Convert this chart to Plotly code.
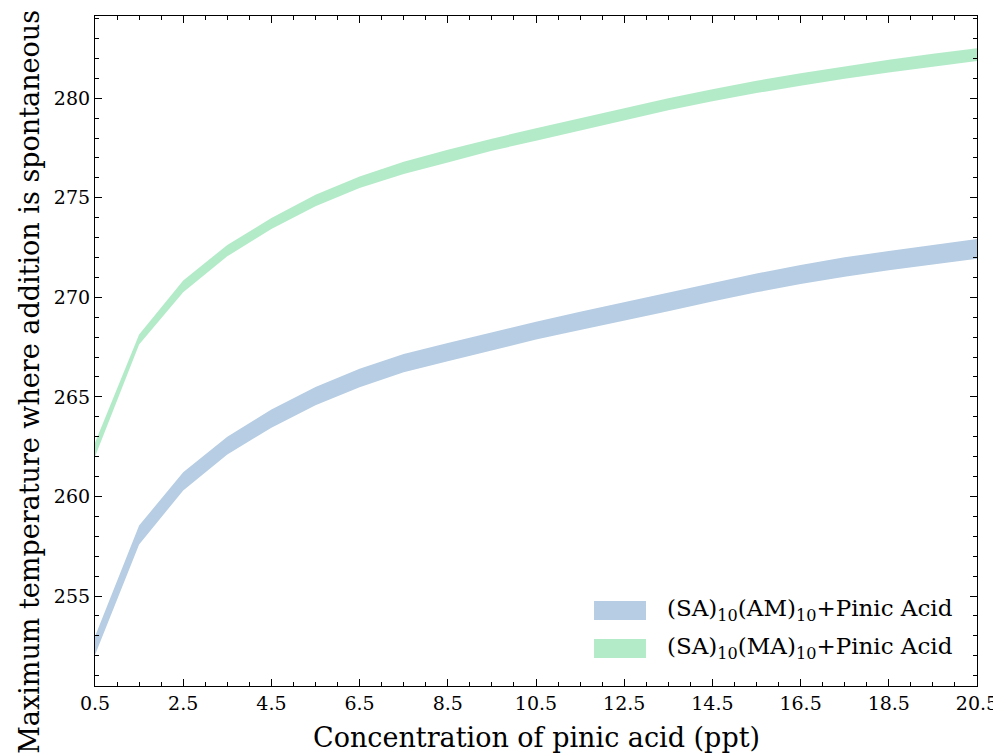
import plotly.graph_objects as go

# Data
conc = [0.5, 1.5, 2.5, 3.5, 4.5, 5.5, 6.5, 7.5, 8.5, 9.5, 10.5,
        11.5, 12.5, 13.5, 14.5, 15.5, 16.5, 17.5, 18.5, 19.5, 20.5]

am_upper = [252.96, 258.54, 261.22, 263.00, 264.37, 265.50, 266.41, 267.16, 267.71, 268.26, 268.78,
            269.28, 269.76, 270.24, 270.74, 271.20, 271.62, 272.01, 272.33, 272.63, 272.93]
am_lower = [252.04, 257.59, 260.30, 262.11, 263.45, 264.58, 265.48, 266.24, 266.79, 267.34, 267.88,
            268.36, 268.82, 269.30, 269.79, 270.25, 270.67, 271.04, 271.36, 271.66, 271.94]

ma_upper = [262.70, 268.13, 270.85, 272.63, 273.98, 275.15, 276.07, 276.81, 277.41, 277.97, 278.49,
            278.99, 279.50, 280.00, 280.45, 280.88, 281.26, 281.61, 281.93, 282.23, 282.51]
ma_lower = [262.00, 267.63, 270.25, 272.06, 273.43, 274.57, 275.49, 276.19, 276.77, 277.36, 277.87,
            278.38, 278.87, 279.40, 279.85, 280.26, 280.63, 280.98, 281.29, 281.59, 281.87]

names = ["(SA)<sub>10</sub>(AM)<sub>10</sub>+Pinic Acid",
         "(SA)<sub>10</sub>(MA)<sub>10</sub>+Pinic Acid"]
colors = ["#b6cde3", "#b3ebc9"]
x_title = "Concentration of pinic acid (ppt)"
y_title = "Maximum temperature where addition is spontaneous"

FONT = "DejaVu Serif"

fig = go.Figure()
for up, lo, nm, col in [(am_upper, am_lower, names[0], colors[0]),
                        (ma_upper, ma_lower, names[1], colors[1])]:
    fig.add_trace(go.Scatter(x=conc, y=up, mode="lines", line=dict(width=0, color=col),
                             showlegend=False, hoverinfo="skip"))
    fig.add_trace(go.Scatter(x=conc, y=lo, mode="lines", line=dict(width=0, color=col),
                             fill="tonexty", fillcolor=col, name=nm, showlegend=False))

# Legend drawn as patches + text (matplotlib style)
leg_rows = [0.1127, 0.0560]
for yc, nm, col in zip(leg_rows, names, colors):
    fig.add_shape(type="rect", xref="paper", yref="paper",
                  x0=0.5658, x1=0.6247, y0=yc - 0.0142, y1=yc + 0.0142,
                  fillcolor=col, line=dict(width=0), layer="above")
    fig.add_annotation(xref="paper", yref="paper", x=0.6460, y=yc, text=nm,
                       showarrow=False, xanchor="left", yanchor="middle",
                       font=dict(family=FONT, size=23, color="black"))

# Axis titles
fig.add_annotation(xref="paper", yref="paper", x=0.5, y=-0.0776, text=x_title,
                   showarrow=False, xanchor="center", yanchor="middle",
                   font=dict(family=FONT, size=27, color="black"))
fig.add_annotation(xref="paper", yref="paper", x=-0.0737, y=0.454, text=y_title,
                   showarrow=False, xanchor="center", yanchor="middle", textangle=-90,
                   font=dict(family=FONT, size=27, color="black"))

tick_style = dict(showgrid=False, zeroline=False, showline=True, linecolor="black",
                  linewidth=1.2, mirror="allticks", ticks="inside", ticklen=7, tickwidth=1.2,
                  tickcolor="black", tickfont=dict(family=FONT, size=19, color="black"),
                  automargin=False, tickmode="linear")

fig.update_layout(
    xaxis=dict(range=[0.5, 20.5], tick0=0.5, dtick=2, tickformat=".1f",
               minor=dict(dtick=0.5, tick0=0.5, ticks="inside", ticklen=3.5, tickwidth=1,
                          tickcolor="black", showgrid=False),
               **tick_style),
    yaxis=dict(range=[250.48, 284.13], tick0=250, dtick=5,
               minor=dict(dtick=1, tick0=250, ticks="inside", ticklen=3.5, tickwidth=1,
                          tickcolor="black", showgrid=False),
               **tick_style),
    width=993, height=747, plot_bgcolor="white", paper_bgcolor="white",
    margin=dict(l=87, r=24, t=8, b=69), showlegend=False)

fig.write_html("out.html")
